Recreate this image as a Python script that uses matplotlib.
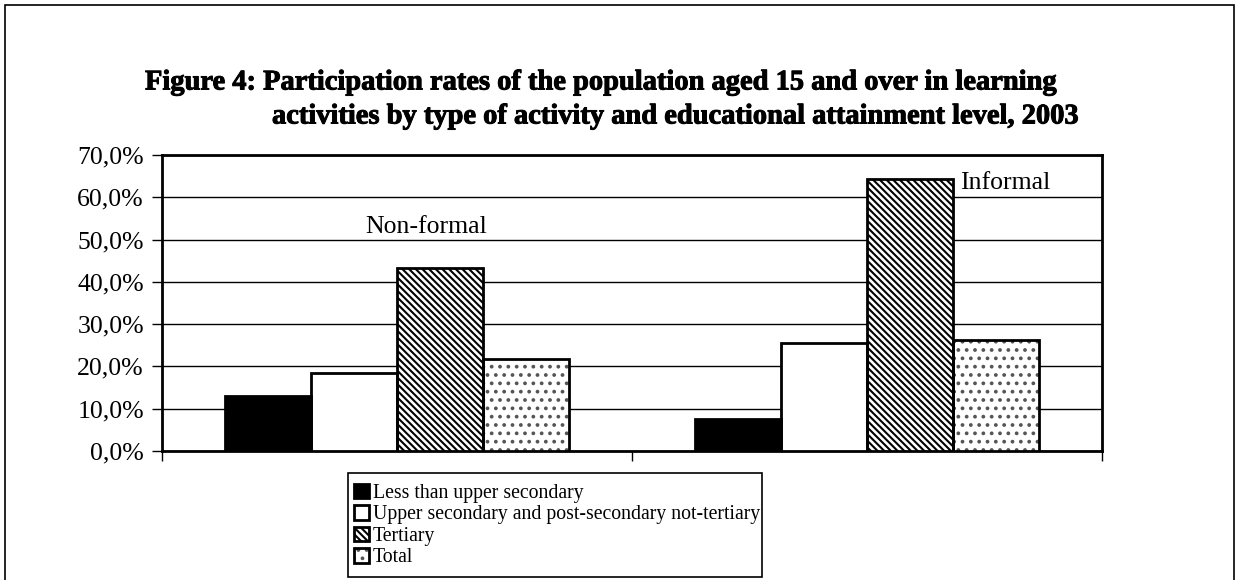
import matplotlib
matplotlib.use("Agg")
import matplotlib.pyplot as plt
import matplotlib.patheffects as pe
import numpy as np
from matplotlib.ticker import FuncFormatter
from matplotlib.patches import Rectangle
from matplotlib.legend_handler import HandlerTuple

plt.rcParams['font.family'] = ['Liberation Serif', 'DejaVu Serif']
plt.rcParams['hatch.linewidth'] = 1.5

activities = ["Non-formal", "Informal"]
levels = ["Less than upper secondary",
          "Upper secondary and post-secondary not-tertiary",
          "Tertiary",
          "Total"]
values = {
    "Less than upper secondary": [13.0, 7.5],
    "Upper secondary and post-secondary not-tertiary": [18.5, 25.5],
    "Tertiary": [43.3, 64.3],
    "Total": [21.7, 26.2],
}
y_ticks = [0, 10, 20, 30, 40, 50, 60, 70]

# fill colour, hatch pattern, hatch colour
styles = [
    ("black", None, "black"),
    ("white", None, "black"),
    ("white", "\\\\\\\\\\", "black"),
    ("white", "..", "#555555"),
]

W, H = 1239, 580
fig = plt.figure(figsize=(W / 100, H / 100), dpi=100)

# page frame around the whole figure
fig.patches.append(Rectangle((5 / W, -0.05), 1229 / W, 1.05 - 5 / H,
                             transform=fig.transFigure, fill=False,
                             edgecolor="black", linewidth=1.2))

ax = fig.add_axes([162 / W, 1 - 451 / H, 940 / W, 296 / H])

width = 0.183
x = np.arange(len(activities))
handles = []
for i, (lvl, (fc, hatch, hc)) in enumerate(zip(levels, styles)):
    offs = (i - 1.5) * width
    fill = ax.bar(x + offs, values[lvl], width, facecolor=fc,
                  edgecolor=hc, linewidth=0, hatch=hatch, zorder=3)
    outline = ax.bar(x + offs, values[lvl], width, fill=False,
                     edgecolor="black", linewidth=2.0, zorder=4)
    handles.append((fill.patches[0], outline.patches[0]))

ax.set_xlim(-0.5, 1.5)
ax.set_ylim(0, 70)
ax.set_yticks(y_ticks)
ax.yaxis.set_major_formatter(FuncFormatter(lambda v, p: f"{v:.1f}%".replace(".", ",")))
ax.set_xticks([-0.5, 0.5, 1.5])
ax.set_xticklabels([])
ax.tick_params(axis="both", direction="out", length=7, width=1, labelsize=18.5, color="black")
ax.tick_params(axis="y", pad=6)
ax.yaxis.grid(True, color="black", linewidth=1.0, zorder=0)
ax.set_axisbelow(True)
for s in ax.spines.values():
    s.set_linewidth(2.0)

ax.text(0.061, 53.0, "Non-formal", ha="center", va="center", fontsize=18.5)
ax.text(1.198, 63.4, "Informal", ha="left", va="center", fontsize=18.5)

heavy = [pe.withStroke(linewidth=0.7, foreground="black")]
fig.text(145 / W, 1 - 83 / H,
         "Figure 4: Participation rates of the population aged 15 and over in learning",
         ha="left", va="center", fontsize=20.5, fontweight="bold", path_effects=heavy)
fig.text(272 / W, 1 - 117 / H,
         "activities by type of activity and educational attainment level, 2003",
         ha="left", va="center", fontsize=20.5, fontweight="bold", path_effects=heavy)

# legend entries without their own frame; the box is drawn separately
leg = fig.legend(handles, levels, loc="upper left",
                 bbox_to_anchor=(348 / W, 1 - 478 / H),
                 handler_map={tuple: HandlerTuple(ndivide=1, pad=0)},
                 fontsize=14.2, frameon=False,
                 handlelength=0.75, handleheight=0.75, handletextpad=0.2,
                 labelspacing=0.12, borderpad=0.3, borderaxespad=0)
for h in leg.legend_handles:
    for p in (h if isinstance(h, (list, tuple)) else [h]):
        if not p.get_fill():
            p.set_linewidth(1.2)
fig.patches.append(Rectangle((348 / W, 1 - 577 / H), 414 / W, 104 / H,
                             transform=fig.transFigure, fill=False,
                             edgecolor="black", linewidth=1.2))

fig.savefig("out.png", dpi=100)
